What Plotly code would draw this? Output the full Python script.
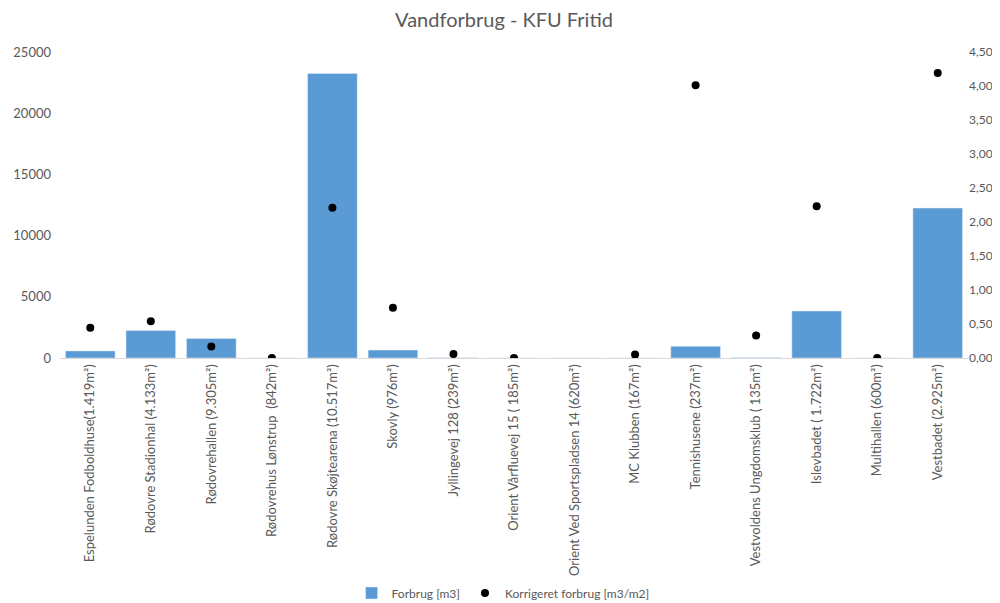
import plotly.graph_objects as go

# kategorier og værdier
steder = [
    "Espelunden Fodboldhuse(1.419m²)",
    "Rødovre Stadionhal (4.133m²)",
    "Rødovrehallen (9.305m²)",
    "Rødovrehus Lønstrup  (842m²)",
    "Rødovre Skøjtearena (10.517m²)",
    "Skovly (976m²)",
    "Jyllingevej 128 (239m²)",
    "Orient Vårfluevej 15 ( 185m²)",
    "Orient Ved Sportspladsen 14 (620m²)",
    "MC Klubben (167m²)",
    "Tennishusene (237m²)",
    "Vestvoldens Ungdomsklub ( 135m²)",
    "Islevbadet ( 1.722m²)",
    "Multihallen (600m²)",
    "Vestbadet (2.925m²)",
]
forbrug = [580, 2250, 1600, 0, 23250, 650, 12, 0, 0, 7, 960, 45, 3840, 0, 12250]
korrigeret = [0.445, 0.54, 0.17, 0.0, 2.21, 0.74, 0.06, 0.0, None, 0.05, 4.01, 0.33, 2.23, 0.0, 4.19]

grey = "#595959"
font = "Lato, 'Open Sans', sans-serif"

fig = go.Figure()
fig.add_trace(go.Bar(x=steder, y=forbrug, name="Forbrug [m3]",
                     marker=dict(color="#5B9BD5")))
fig.add_trace(go.Scatter(x=steder, y=korrigeret, name="Korrigeret forbrug [m3/m2]",
                         mode="markers", yaxis="y2",
                         marker=dict(color="black", size=8)))

# siden har 8px body-margin, derfor 992x595
fig.update_layout(
    width=992, height=595,
    title=dict(text="Vandforbrug - KFU Fritid", x=0.5, xanchor="center",
               y=0.98, yanchor="middle",
               font=dict(size=20, color=grey, family=font)),
    font=dict(family=font, color=grey, size=13),
    plot_bgcolor="white", paper_bgcolor="white",
    separators=",.",
    bargap=0.18,
    margin=dict(l=52, r=32, t=44, b=245, autoexpand=False),
    xaxis=dict(tickangle=-90, showline=True, linecolor="#D9D9D9", linewidth=1,
               range=[-0.5, len(steder) - 0.5], autorange=False,
               ticks="", automargin=False, tickfont=dict(size=13, color=grey)),
    yaxis=dict(range=[0, 25000], dtick=5000, tickformat="d", showgrid=False,
               zeroline=False, ticks="", automargin=False, ticklabelstandoff=8,
               tickfont=dict(size=13, color=grey)),
    yaxis2=dict(range=[0, 4.5], dtick=0.5, tickformat=".2f", overlaying="y",
                side="right", showgrid=False, zeroline=False, ticks="",
                automargin=False, tickfont=dict(size=12, color=grey)),
    legend=dict(orientation="h", x=0.488, xanchor="center", y=-0.768, yanchor="middle",
                font=dict(size=12, color=grey), itemwidth=30),
)

fig.write_html("out.html")
